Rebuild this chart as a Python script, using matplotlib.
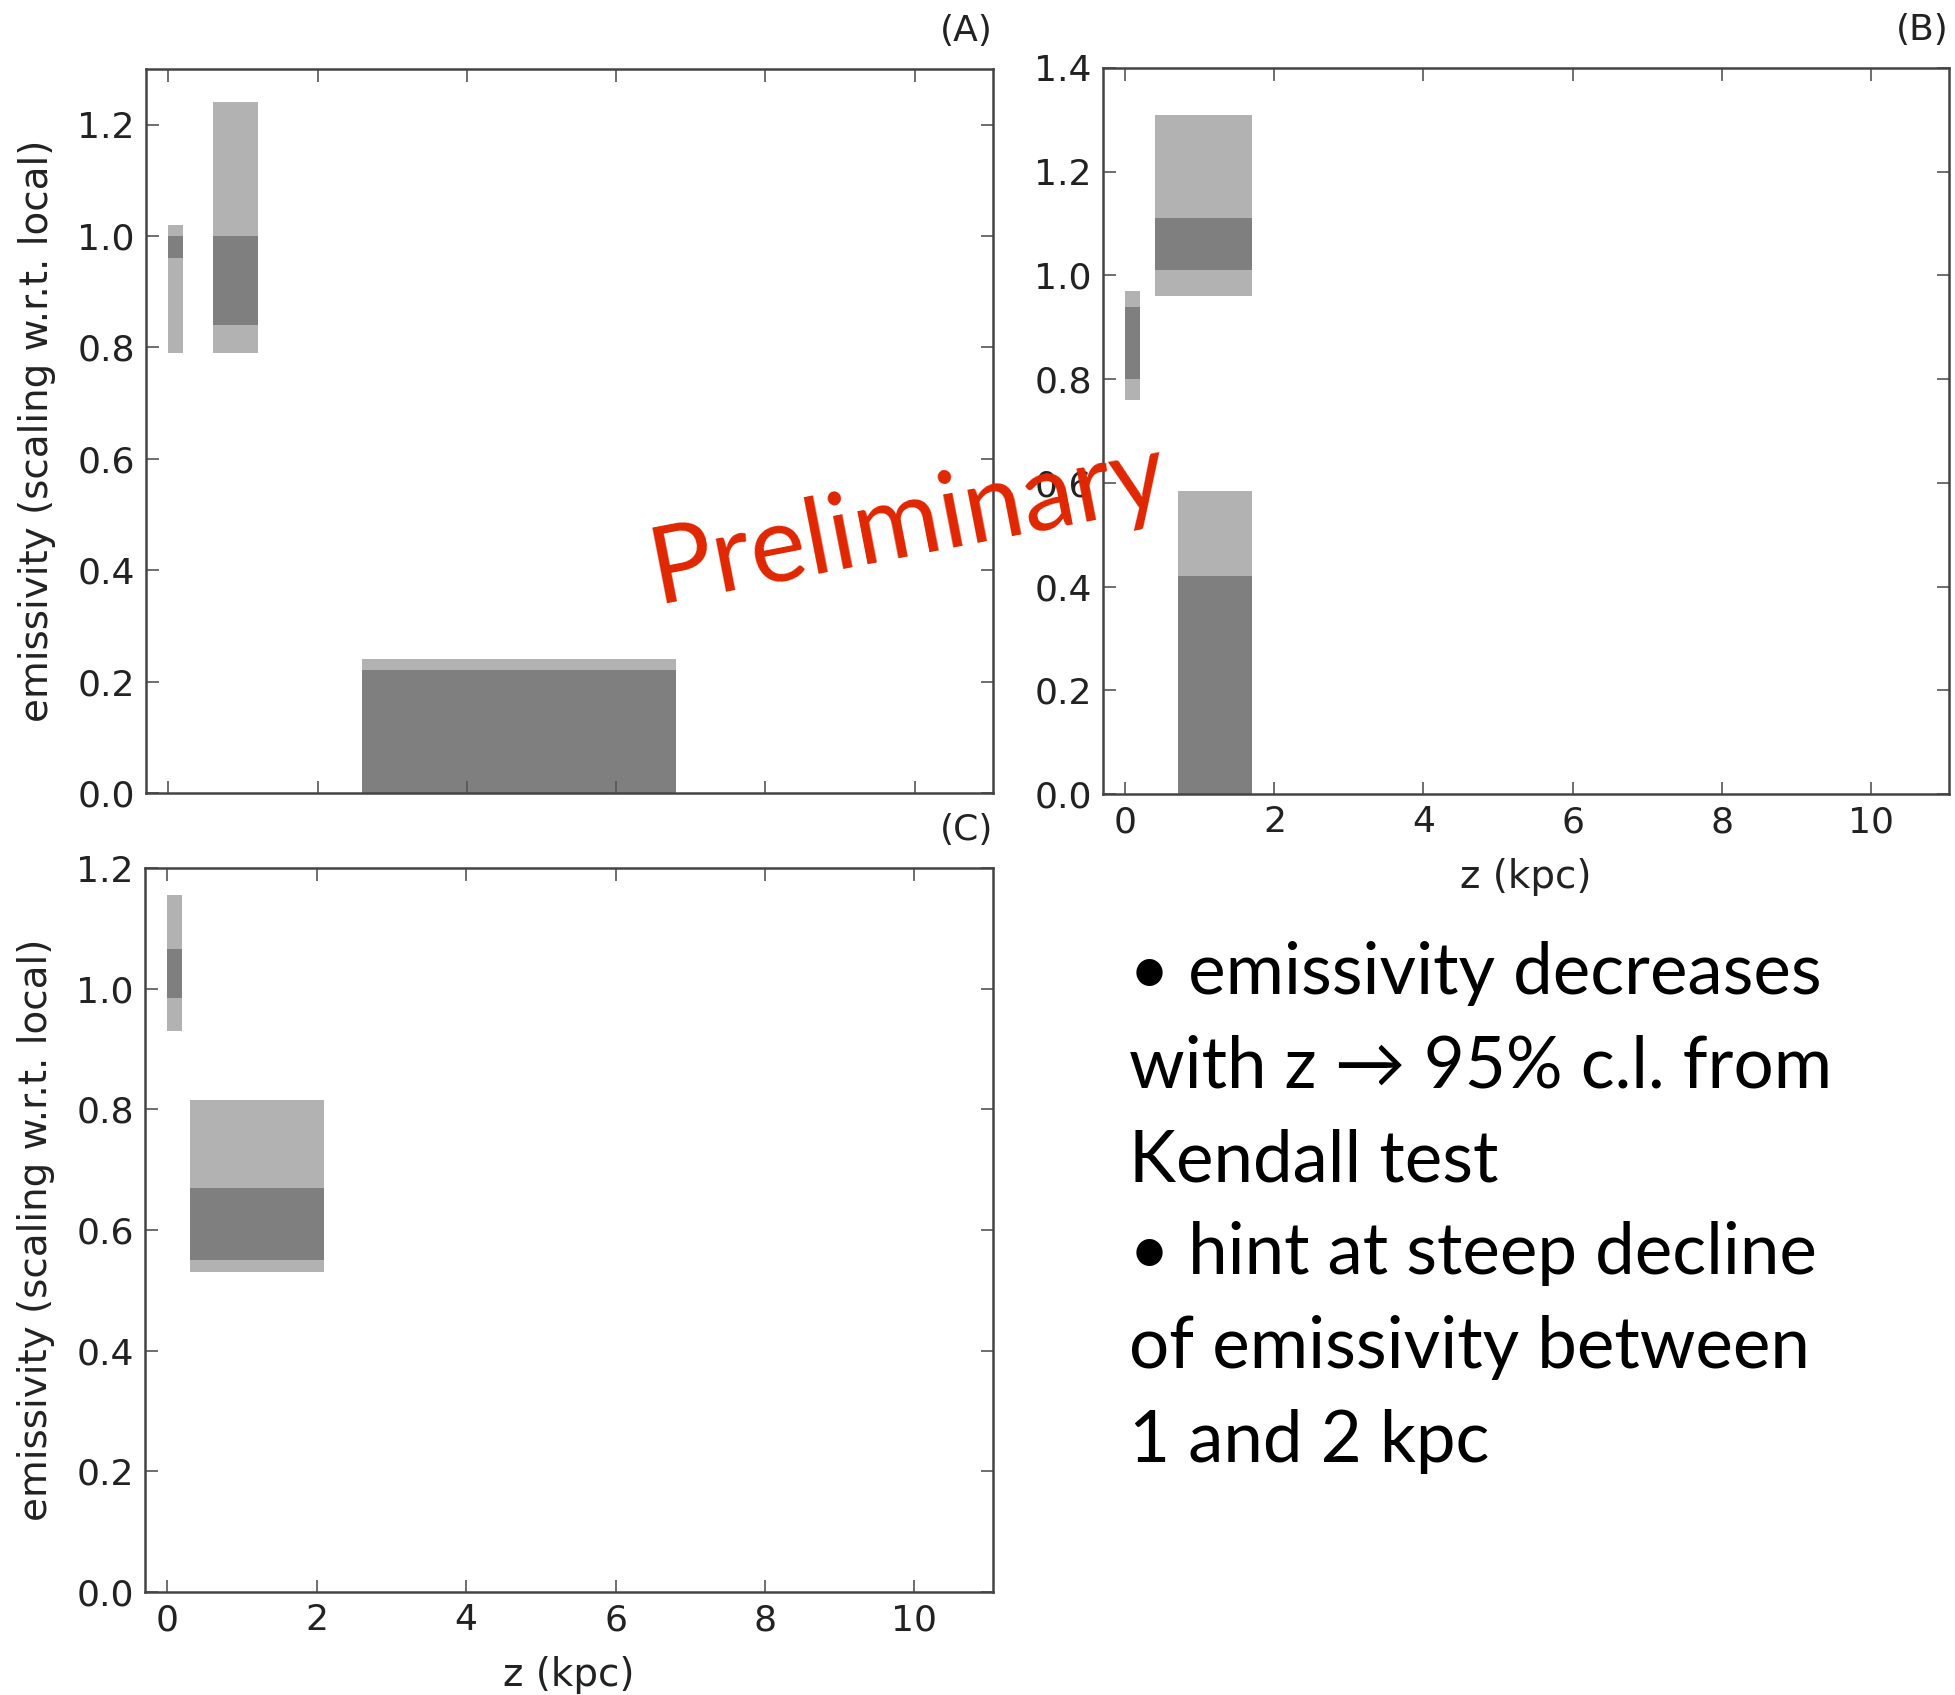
import matplotlib
matplotlib.use("Agg")
import matplotlib.pyplot as plt

# panel A: bins in z (kpc) and the two confidence bands
a_zlo = [0.0, 0.6, 2.6]
a_zhi = [0.2, 1.2, 6.8]
a_outer_lo = [0.79, 0.79, 0.0]
a_outer_hi = [1.02, 1.24, 0.24]
a_inner_lo = [0.96, 0.84, 0.0]
a_inner_hi = [1.00, 1.00, 0.22]

# panel B
b_zlo = [0.0, 0.4, 0.7]
b_zhi = [0.2, 1.7, 1.7]
b_outer_lo = [0.76, 0.96, 0.0]
b_outer_hi = [0.97, 1.31, 0.585]
b_inner_lo = [0.80, 1.01, 0.0]
b_inner_hi = [0.94, 1.11, 0.42]

# panel C
c_zlo = [0.0, 0.3]
c_zhi = [0.2, 2.1]
c_outer_lo = [0.93, 0.53]
c_outer_hi = [1.155, 0.815]
c_inner_lo = [0.985, 0.55]
c_inner_hi = [1.065, 0.67]

notes = ["\u2022 emissivity decreases",
         "with z \u2192 95% c.l. from",
         "Kendall test",
         "\u2022 hint at steep decline",
         "of emissivity between",
         "1 and 2 kpc"]

LIGHT = "#b2b2b2"
DARK = "#7f7f7f"
FS = 26
LFS = 28
YLABEL = "emissivity (scaling w.r.t. local)"


def boxes(ax, zlo, zhi, lo_o, hi_o, lo_i, hi_i):
    w = [h - l for l, h in zip(zlo, zhi)]
    ax.bar(zlo, [h - l for l, h in zip(lo_o, hi_o)], bottom=lo_o, width=w,
           align="edge", color=LIGHT, linewidth=0)
    ax.bar(zlo, [h - l for l, h in zip(lo_i, hi_i)], bottom=lo_i, width=w,
           align="edge", color=DARK, linewidth=0)


def style(ax, ymax, tag):
    ax.set_xlim(-0.3, 11.05)
    ax.set_ylim(0, ymax)
    ax.set_xticks([0, 2, 4, 6, 8, 10])
    ax.set_yticks([round(0.2 * i, 1) for i in range(int(round(ymax / 0.2)) + 1)])
    ax.tick_params(direction="in", length=9, width=1.2, color="#555555",
                   top=True, right=True, labelsize=FS, pad=8, labelcolor="#222222")
    for s in ax.spines.values():
        s.set_linewidth(1.8)
        s.set_color("#444444")
    ax.set_title(tag, loc="right", fontsize=FS, pad=20, color="#222222")


fig = plt.figure(figsize=(19.56, 16.95), dpi=100)
axA = fig.add_axes([0.0746, 0.5322, 0.4330, 0.4271])
axB = fig.add_axes([0.5639, 0.5316, 0.4325, 0.4283])
axC = fig.add_axes([0.0741, 0.0608, 0.4335, 0.4271])

boxes(axA, a_zlo, a_zhi, a_outer_lo, a_outer_hi, a_inner_lo, a_inner_hi)
boxes(axB, b_zlo, b_zhi, b_outer_lo, b_outer_hi, b_inner_lo, b_inner_hi)
boxes(axC, c_zlo, c_zhi, c_outer_lo, c_outer_hi, c_inner_lo, c_inner_hi)

style(axA, 1.3, "(A)")
style(axB, 1.4, "(B)")
style(axC, 1.2, "(C)")
axA.set_yticks([0.0, 0.2, 0.4, 0.6, 0.8, 1.0, 1.2])
axA.tick_params(labelbottom=False)

for ax in (axA, axC):
    ax.set_ylabel(YLABEL, fontsize=LFS, color="#222222")
    ax.yaxis.set_label_coords(-0.106, 0.5)
for ax in (axB, axC):
    ax.set_xlabel("z (kpc)", fontsize=LFS, color="#222222")
    ax.xaxis.set_label_coords(0.5, -0.088)

base = 1 - 994 / 1695
step = 93.5 / 1695
for i, line in enumerate(notes):
    fig.text(1129 / 1956, base - i * step, line, fontsize=51, va="baseline",
             ha="left", family=["Lato", "DejaVu Sans"], color="black")

fig.text(908 / 1956, 1 - 524 / 1695, "Preliminary", fontsize=76, rotation=11,
         ha="center", va="center", color="#e02600", family=["Lato", "DejaVu Sans"],
         zorder=10)

fig.savefig("out.png", dpi=100)
